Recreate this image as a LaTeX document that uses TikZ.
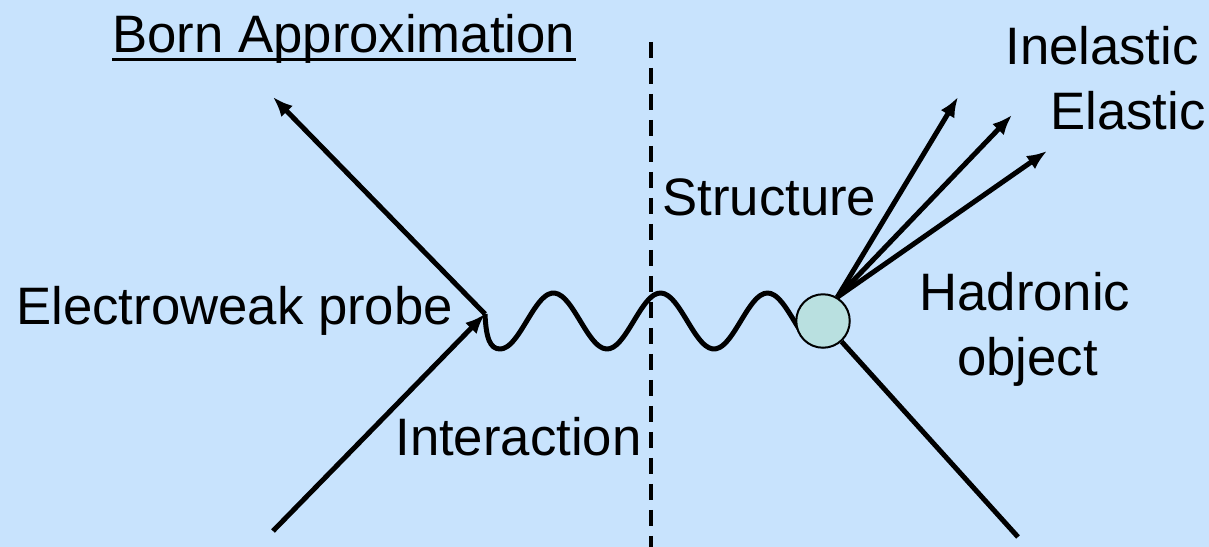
\documentclass[tikz,border=0pt]{standalone}
\usepackage{fontspec}
\setmainfont{Liberation Sans}
\usetikzlibrary{arrows.meta}
\definecolor{slideblue}{RGB}{200,227,253}
\definecolor{blobfill}{RGB}{185,224,224}

\begin{document}
\begin{tikzpicture}[
    x=0.02cm, y=-0.02cm,
    txt/.style={font=\fontsize{30}{37}\selectfont, inner sep=0pt, anchor=base west},
    probe/.style={draw=black, line width=0.1cm, -{Latex[length=0.4cm, width=0.32cm]}},
    plainline/.style={draw=black, line width=0.1cm},
    wave/.style={draw=black, line width=0.1cm, line join=round},
    divider/.style={draw=black, line width=0.07cm, dash pattern=on 0.32cm off 0.2cm},
    blob/.style={circle, draw=black, line width=0.04cm, fill=blobfill,
                 minimum size=1.07cm, inner sep=0pt},
    underl/.style={draw=black, line width=0.06cm},
  ]
  \useasboundingbox (0,0) rectangle (1209,547);
  \fill[slideblue] (0,0) rectangle (1209,547);
  % dashed split
  \coordinate (divtop) at (651,42);
  \coordinate (divbot) at (651,547);
  \draw[divider] (divtop) -- (divbot);
  % probe in and out
  \coordinate (vtx) at (485,314);
  \coordinate (pin) at (273,531);
  \coordinate (pout) at (273,97);
  \draw[probe] (pin) -- (vtx);
  \draw[probe] (vtx) -- (pout);
  % exchanged boson
  \draw[wave] (vtx) .. controls (486,338) and (490,349) .. (500,349)
    -- plot[smooth, domain=500:805, samples=90] (\x, {321+28*cos(((\x-500)/107)*360)});
  % target
  \node[blob] (blob) at (823,321) {};
  \coordinate (hout) at (1018,537);
  \draw[plainline] (blob) -- (hout);
  \coordinate (tipA) at (958,97);
  \coordinate (tipB) at (1012,115);
  \coordinate (tipC) at (1047,151);
  \foreach \t in {tipA,tipB,tipC} { \draw[probe] (blob.59) -- (\t); }
  % labels
  \node[txt] (born) at (112,53) {Born Approximation};
  \draw[underl] ([yshift=-0.14cm]born.base west) -- ([yshift=-0.14cm]born.base east);
  \node[txt] (elprobe) at (16,324) {Electroweak probe};
  \node[txt] (inter) at (395,455) {Interaction};
  \node[txt] (struct) at (662,215) {Structure};
  \node[txt] (inel) at (1005,65) {Inelastic};
  \node[txt] (elas) at (1050,130) {Elastic};
  \node[txt] (hadr) at (919,310) {Hadronic};
  \node[txt] (hadobj) at (957,375) {object};
\end{tikzpicture}
\end{document}
